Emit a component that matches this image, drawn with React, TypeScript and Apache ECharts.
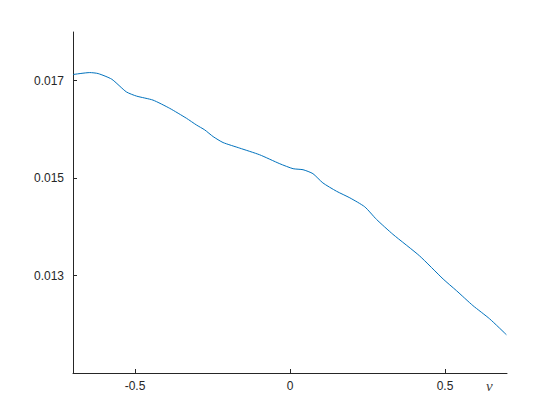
import React, { useEffect, useRef } from "react";
import * as echarts from "echarts";

const xValues = [
  -0.7, -0.646, -0.619, -0.575, -0.528, -0.495, -0.442, -0.388, -0.334, -0.302,
  -0.275, -0.248, -0.216, -0.162, -0.098, -0.033, 0.01, 0.042, 0.074, 0.106,
  0.15, 0.193, 0.241, 0.279, 0.332, 0.418, 0.494, 0.537, 0.59, 0.644, 0.698,
];
const yValues = [
  0.017127, 0.017167, 0.017147, 0.017031, 0.016771, 0.016684, 0.016602, 0.016433,
  0.016229, 0.016092, 0.01599, 0.015853, 0.015731, 0.015616, 0.01548, 0.015296,
  0.015194, 0.015173, 0.015092, 0.014902, 0.014731, 0.014596, 0.014412, 0.014153,
  0.013847, 0.013404, 0.012929, 0.01269, 0.012384, 0.012112, 0.011786,
];
const xTicks = [-0.5, 0, 0.5];
const yTicks = [0.013, 0.015, 0.017];
const xLabel = "v";

export default function App() {
  const ref = useRef<HTMLDivElement>(null);
  useEffect(() => {
    if (!ref.current) return;
    const chart = echarts.init(ref.current, null, { renderer: "svg" });
    const axisColor = "#262626";
    chart.setOption({
      animation: false,
      backgroundColor: "#ffffff",
      grid: { left: 73, right: 53, top: 32, bottom: 47 },
      xAxis: {
        type: "value",
        min: -0.7,
        max: 0.7,
        axisLine: { show: true, onZero: false, lineStyle: { color: axisColor, width: 1 } },
        axisTick: { show: true, inside: true, length: 4, customValues: xTicks, lineStyle: { color: axisColor } },
        axisLabel: {
          customValues: xTicks,
          color: axisColor,
          fontFamily: "Liberation Sans, Arial, sans-serif",
          fontSize: 12,
          margin: 7,
          formatter: (v: number) => String(v),
        },
        splitLine: { show: false },
      },
      yAxis: {
        type: "value",
        min: 0.011,
        max: 0.018,
        axisLine: { show: true, onZero: false, lineStyle: { color: axisColor, width: 1 } },
        axisTick: { show: true, inside: true, length: 4, customValues: yTicks, lineStyle: { color: axisColor } },
        axisLabel: {
          customValues: yTicks,
          color: axisColor,
          fontFamily: "Liberation Sans, Arial, sans-serif",
          fontSize: 12,
          margin: 9,
          formatter: (v: number) => v.toFixed(3),
        },
        splitLine: { show: false },
      },
      graphic: [
        {
          type: "text",
          left: 486,
          top: 378,
          style: {
            text: xLabel,
            fill: "#404040",
            font: "italic 15px 'Liberation Serif', 'Times New Roman', serif",
          },
        },
      ],
      series: [
        {
          type: "line",
          data: xValues.map((x, i) => [x, yValues[i]]),
          showSymbol: false,
          smooth: 0.2,
          lineStyle: { color: "#0072BD", width: 1 },
        },
      ],
    });
    return () => chart.dispose();
  }, []);
  return <div ref={ref} style={{ width: 560, height: 420, position: "absolute", left: 0, top: 0 }} />;
}
